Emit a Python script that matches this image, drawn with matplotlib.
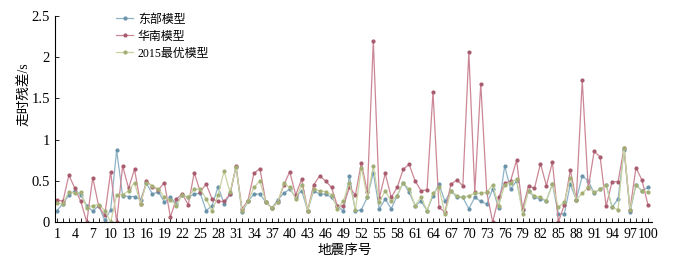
import numpy as np
import matplotlib.pyplot as plt

plt.rcParams['font.family'] = ['Liberation Serif', 'Noto Sans CJK SC']

idx = np.arange(1, 101)

east = [0.14, 0.22, 0.33, 0.38, 0.33, 0.20, 0.13, 0.20, 0.02, 0.15,
        0.87, 0.32, 0.31, 0.31, 0.27, 0.47, 0.34, 0.37, 0.24, 0.30,
        0.22, 0.33, 0.30, 0.34, 0.35, 0.14, 0.20, 0.43, 0.22, 0.34,
        0.67, 0.12, 0.25, 0.34, 0.34, 0.24, 0.17, 0.27, 0.35, 0.40,
        0.30, 0.38, 0.14, 0.38, 0.34, 0.34, 0.30, 0.20, 0.13, 0.56,
        0.13, 0.15, 0.30, 0.60, 0.16, 0.28, 0.16, 0.32, 0.48, 0.36,
        0.20, 0.25, 0.14, 0.32, 0.46, 0.25, 0.38, 0.30, 0.30, 0.16,
        0.30, 0.25, 0.22, 0.40, 0.17, 0.68, 0.40, 0.50, 0.15, 0.38,
        0.30, 0.28, 0.26, 0.46, 0.10, 0.10, 0.46, 0.27, 0.56, 0.50,
        0.35, 0.40, 0.45, 0.18, 0.28, 0.88, 0.12, 0.45, 0.38, 0.42]

south = [0.27, 0.25, 0.57, 0.41, 0.25, 0.00, 0.54, 0.19, 0.08, 0.61,
         0.00, 0.68, 0.41, 0.64, 0.22, 0.50, 0.43, 0.39, 0.48, 0.06,
         0.28, 0.34, 0.21, 0.60, 0.37, 0.46, 0.28, 0.25, 0.25, 0.34,
         0.68, 0.16, 0.26, 0.59, 0.65, 0.24, 0.17, 0.24, 0.45, 0.61,
         0.33, 0.52, 0.14, 0.45, 0.56, 0.50, 0.42, 0.19, 0.20, 0.42,
         0.33, 0.72, 0.36, 2.20, 0.29, 0.59, 0.30, 0.42, 0.64, 0.70,
         0.50, 0.38, 0.39, 1.58, 0.18, 0.12, 0.46, 0.51, 0.44, 2.06,
         0.37, 1.68, 0.36, 0.00, 0.30, 0.47, 0.50, 0.75, 0.16, 0.44,
         0.41, 0.71, 0.44, 0.73, 0.00, 0.21, 0.63, 0.27, 1.72, 0.41,
         0.86, 0.79, 0.19, 0.49, 0.49, 0.90, 0.15, 0.66, 0.51, 0.21]

best2015 = [0.23, 0.22, 0.37, 0.35, 0.36, 0.17, 0.20, 0.21, 0.14, 0.00,
            0.33, 0.33, 0.38, 0.48, 0.22, 0.48, 0.44, 0.40, 0.30, 0.27,
            0.20, 0.33, 0.30, 0.40, 0.40, 0.28, 0.13, 0.33, 0.62, 0.36,
            0.67, 0.14, 0.25, 0.42, 0.50, 0.24, 0.17, 0.24, 0.47, 0.42,
            0.28, 0.45, 0.14, 0.40, 0.38, 0.37, 0.33, 0.16, 0.26, 0.48,
            0.15, 0.66, 0.30, 0.68, 0.24, 0.38, 0.25, 0.32, 0.48, 0.40,
            0.20, 0.30, 0.14, 0.35, 0.42, 0.10, 0.38, 0.32, 0.30, 0.32,
            0.35, 0.35, 0.36, 0.45, 0.20, 0.45, 0.48, 0.52, 0.10, 0.38,
            0.32, 0.30, 0.26, 0.46, 0.18, 0.24, 0.54, 0.27, 0.35, 0.42,
            0.36, 0.40, 0.45, 0.18, 0.15, 0.90, 0.15, 0.45, 0.38, 0.36]

names = ['东部模型', '华南模型', '2015最优模型']
colors = ['#8fb3c6', '#cc8796', '#c8d3a0']
mcolors = ['#6a93aa', '#a85c6e', '#a2ae74']

fig = plt.figure(figsize=(6.95, 2.6), dpi=100)
ax = fig.add_axes([0.079, 0.146, 0.859, 0.792])

for ys, c, mc, n in zip([east, south, best2015], colors, mcolors, names):
    ax.plot(idx, ys, color=c, lw=0.9, marker='o', ms=2.0,
            mfc=mc, mec=mc, label=n)

ax.set_xlim(0.66, 100.67)
ax.set_ylim(0, 2.5)
ax.set_xticks(np.arange(1, 101, 3))
ax.set_xticks(idx, minor=True)
ax.set_yticks([0, 0.5, 1, 1.5, 2, 2.5])
ax.set_yticklabels(['0', '0.5', '1', '1.5', '2', '2.5'])
ax.tick_params(axis='x', which='both', direction='in', length=3, width=0.6,
               labelsize=10, pad=4)
ax.tick_params(axis='y', direction='in', length=3, width=0.6, labelsize=10.5)
for s in ['top', 'right']:
    ax.spines[s].set_visible(False)
for s in ['left', 'bottom']:
    ax.spines[s].set_linewidth(0.8)

ax.set_ylabel('走时残差/s', fontsize=9.8)
ax.yaxis.set_label_coords(-0.04, 0.62)
ax.set_xlabel('地震序号', fontsize=9.8)
ax.xaxis.set_label_coords(0.486, -0.105)

ax.legend(loc='upper left', bbox_to_anchor=(0.085, 1.065), frameon=False,
          fontsize=8.6, handlelength=1.4, handletextpad=0.4,
          labelspacing=0.42)

plt.savefig('out.png', dpi=100)
